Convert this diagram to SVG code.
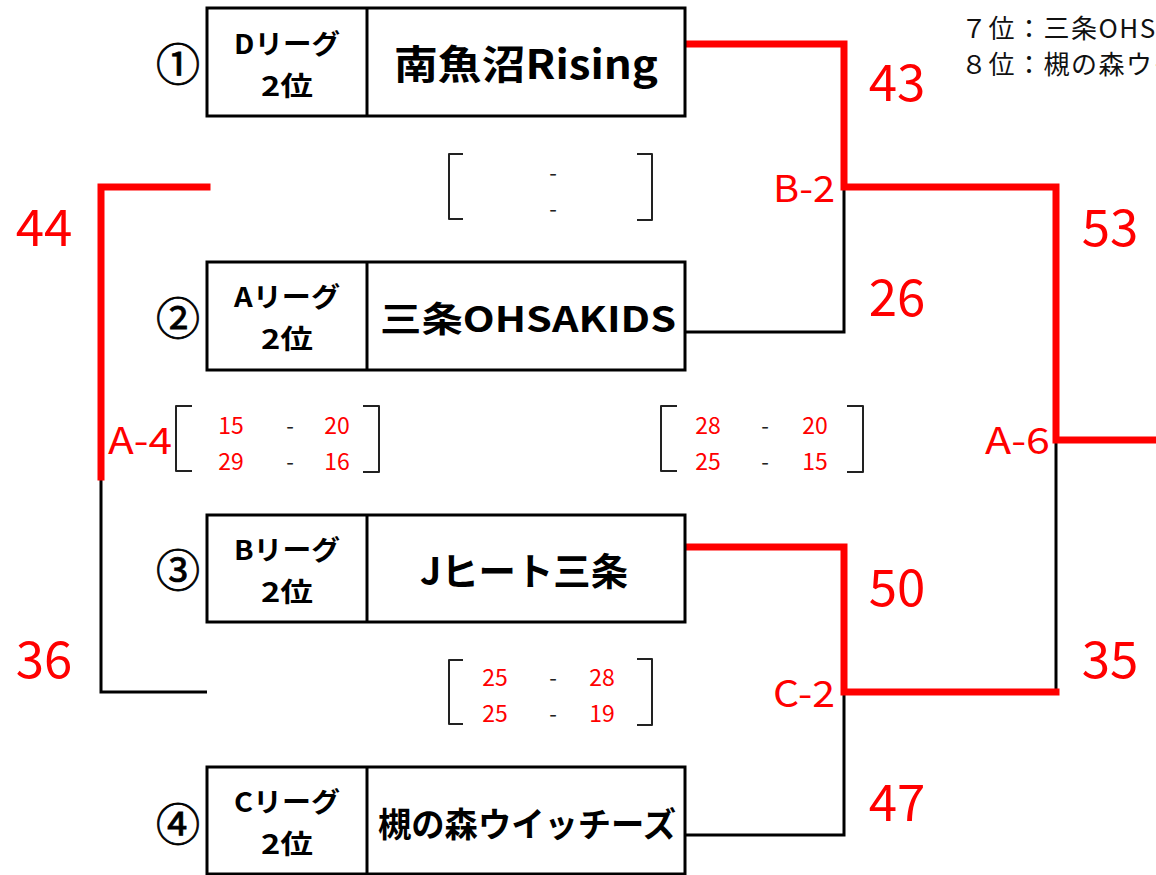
<svg xmlns="http://www.w3.org/2000/svg" width="1156" height="875" viewBox="0 0 1156 875">
<style>
.box{fill:#fff;stroke:#000;stroke-width:3}
.red{fill:none;stroke:#ff0000;stroke-width:7;stroke-linecap:square}
.blk{fill:none;stroke:#000;stroke-width:3}
.brk{fill:none;stroke:#222;stroke-width:2;stroke-linejoin:round}
text{font-family:"Noto Sans CJK JP","Noto Sans",sans-serif}
.num{font-size:44px;fill:#000;text-anchor:middle;dominant-baseline:central;stroke:#000;stroke-width:0.8}
.lg{font-size:27px;font-weight:bold;fill:#000;text-anchor:middle;dominant-baseline:central}
.tm{font-weight:bold;fill:#000;text-anchor:middle;dominant-baseline:central}
.sc{font-size:51px;fill:#ff0000;text-anchor:middle;dominant-baseline:central}
.md{font-size:37px;fill:#ff0000;dominant-baseline:central}
.pt{font-size:23px;fill:#ff0000;text-anchor:middle;dominant-baseline:central}
.dash{font-size:22px;fill:#222;text-anchor:middle;dominant-baseline:central}
.info{font-size:26px;fill:#111;dominant-baseline:central;letter-spacing:1.5px}
</style>
<rect width="1156" height="875" fill="#fff"/>
<g id="connectors">
<polyline class="blk" points="685,332 844,332 844,187"/>
<polyline class="blk" points="685,835 844,835 844,692"/>
<polyline class="blk" points="1056,440 1056,692"/>
<polyline class="blk" points="101,477 101,692 207,692"/>
<polyline class="red" points="688,44 844,44 844,187 1056,187 1056,440 1156,440"/>
<polyline class="red" points="688,547 844,547 844,692 1056,692"/>
<polyline class="red" points="207,187 101,187 101,477"/>
</g>
<g id="node1">
<rect class="box" x="207" y="8" width="478" height="108"/>
<line class="blk" x1="367" y1="8" x2="367" y2="116"/>
<text class="num" x="178" y="62">①</text>
<text class="lg" x="287" y="42" textLength="106" lengthAdjust="spacingAndGlyphs">Dリーグ</text>
<text class="lg" x="287" y="84" textLength="52" lengthAdjust="spacingAndGlyphs">2位</text>
<text class="tm" x="526" y="62" font-size="40" textLength="264" lengthAdjust="spacingAndGlyphs">南魚沼Rising</text>
</g>
<g id="node2">
<rect class="box" x="207" y="262" width="478" height="108"/>
<line class="blk" x1="367" y1="262" x2="367" y2="370"/>
<text class="num" x="178" y="316">②</text>
<text class="lg" x="287" y="295" textLength="106" lengthAdjust="spacingAndGlyphs">Aリーグ</text>
<text class="lg" x="287" y="337" textLength="52" lengthAdjust="spacingAndGlyphs">2位</text>
<text class="tm" x="528" y="316" font-size="35" textLength="296" lengthAdjust="spacingAndGlyphs">三条OHSAKIDS</text>
</g>
<g id="node3">
<rect class="box" x="207" y="515" width="478" height="107"/>
<line class="blk" x1="367" y1="515" x2="367" y2="622"/>
<text class="num" x="178" y="568">③</text>
<text class="lg" x="287" y="548" textLength="106" lengthAdjust="spacingAndGlyphs">Bリーグ</text>
<text class="lg" x="287" y="590" textLength="52" lengthAdjust="spacingAndGlyphs">2位</text>
<text class="tm" x="524" y="568" font-size="38" textLength="208" lengthAdjust="spacingAndGlyphs">Jヒート三条</text>
</g>
<g id="node4">
<rect class="box" x="207" y="767" width="478" height="107"/>
<line class="blk" x1="367" y1="767" x2="367" y2="874"/>
<text class="num" x="178" y="822">④</text>
<text class="lg" x="287" y="800" textLength="106" lengthAdjust="spacingAndGlyphs">Cリーグ</text>
<text class="lg" x="287" y="842" textLength="52" lengthAdjust="spacingAndGlyphs">2位</text>
<text class="tm" x="527" y="822" font-size="34" textLength="298" lengthAdjust="spacingAndGlyphs">槻の森ウイッチーズ</text>
</g>
<g id="scores">
<text class="sc" x="897" y="79">43</text>
<text class="sc" x="897" y="294">26</text>
<text class="sc" x="1110" y="224">53</text>
<text class="sc" x="1110" y="656">35</text>
<text class="sc" x="897" y="584">50</text>
<text class="sc" x="897" y="799">47</text>
<text class="sc" x="44" y="224">44</text>
<text class="sc" x="44" y="656">36</text>
<text class="md" x="773" y="186" textLength="62" lengthAdjust="spacingAndGlyphs">B-2</text>
<text class="md" x="773" y="691" textLength="62" lengthAdjust="spacingAndGlyphs">C-2</text>
<text class="md" x="108" y="438" textLength="64" lengthAdjust="spacingAndGlyphs">A-4</text>
<text class="md" x="985" y="438" textLength="65" lengthAdjust="spacingAndGlyphs">A-6</text>
</g>
<g id="bracket-top">
<path class="brk" d="M463,154 H449 V219 H463"/>
<path class="brk" d="M637,154 H652 V220 H637"/>
<text class="dash" x="553" y="171">-</text>
<text class="dash" x="553" y="207">-</text>
</g>
<g id="bracket-a4">
<path class="brk" d="M192,406 H176 V471 H192"/>
<path class="brk" d="M363,406 H379 V472 H363"/>
<text class="pt" x="231" y="424">15</text>
<text class="dash" x="290" y="424">-</text>
<text class="pt" x="337" y="424">20</text>
<text class="pt" x="231" y="460">29</text>
<text class="dash" x="290" y="460">-</text>
<text class="pt" x="337" y="460">16</text>
</g>
<g id="bracket-b2">
<path class="brk" d="M677,406 H661 V471 H677"/>
<path class="brk" d="M847,406 H863 V472 H847"/>
<text class="pt" x="708" y="424">28</text>
<text class="dash" x="765" y="424">-</text>
<text class="pt" x="815" y="424">20</text>
<text class="pt" x="708" y="460">25</text>
<text class="dash" x="765" y="460">-</text>
<text class="pt" x="815" y="460">15</text>
</g>
<g id="bracket-c2">
<path class="brk" d="M463,660 H449 V724 H463"/>
<path class="brk" d="M637,659 H652 V725 H637"/>
<text class="pt" x="495" y="676">25</text>
<text class="dash" x="553" y="676">-</text>
<text class="pt" x="602" y="676">28</text>
<text class="pt" x="495" y="712">25</text>
<text class="dash" x="553" y="712">-</text>
<text class="pt" x="602" y="712">19</text>
</g>
<g id="ranking">
<text class="info" x="961" y="26">７位：三条OHSAKIDS</text>
<text class="info" x="961" y="62">８位：槻の森ウイッチーズ</text>
</g>
</svg>
